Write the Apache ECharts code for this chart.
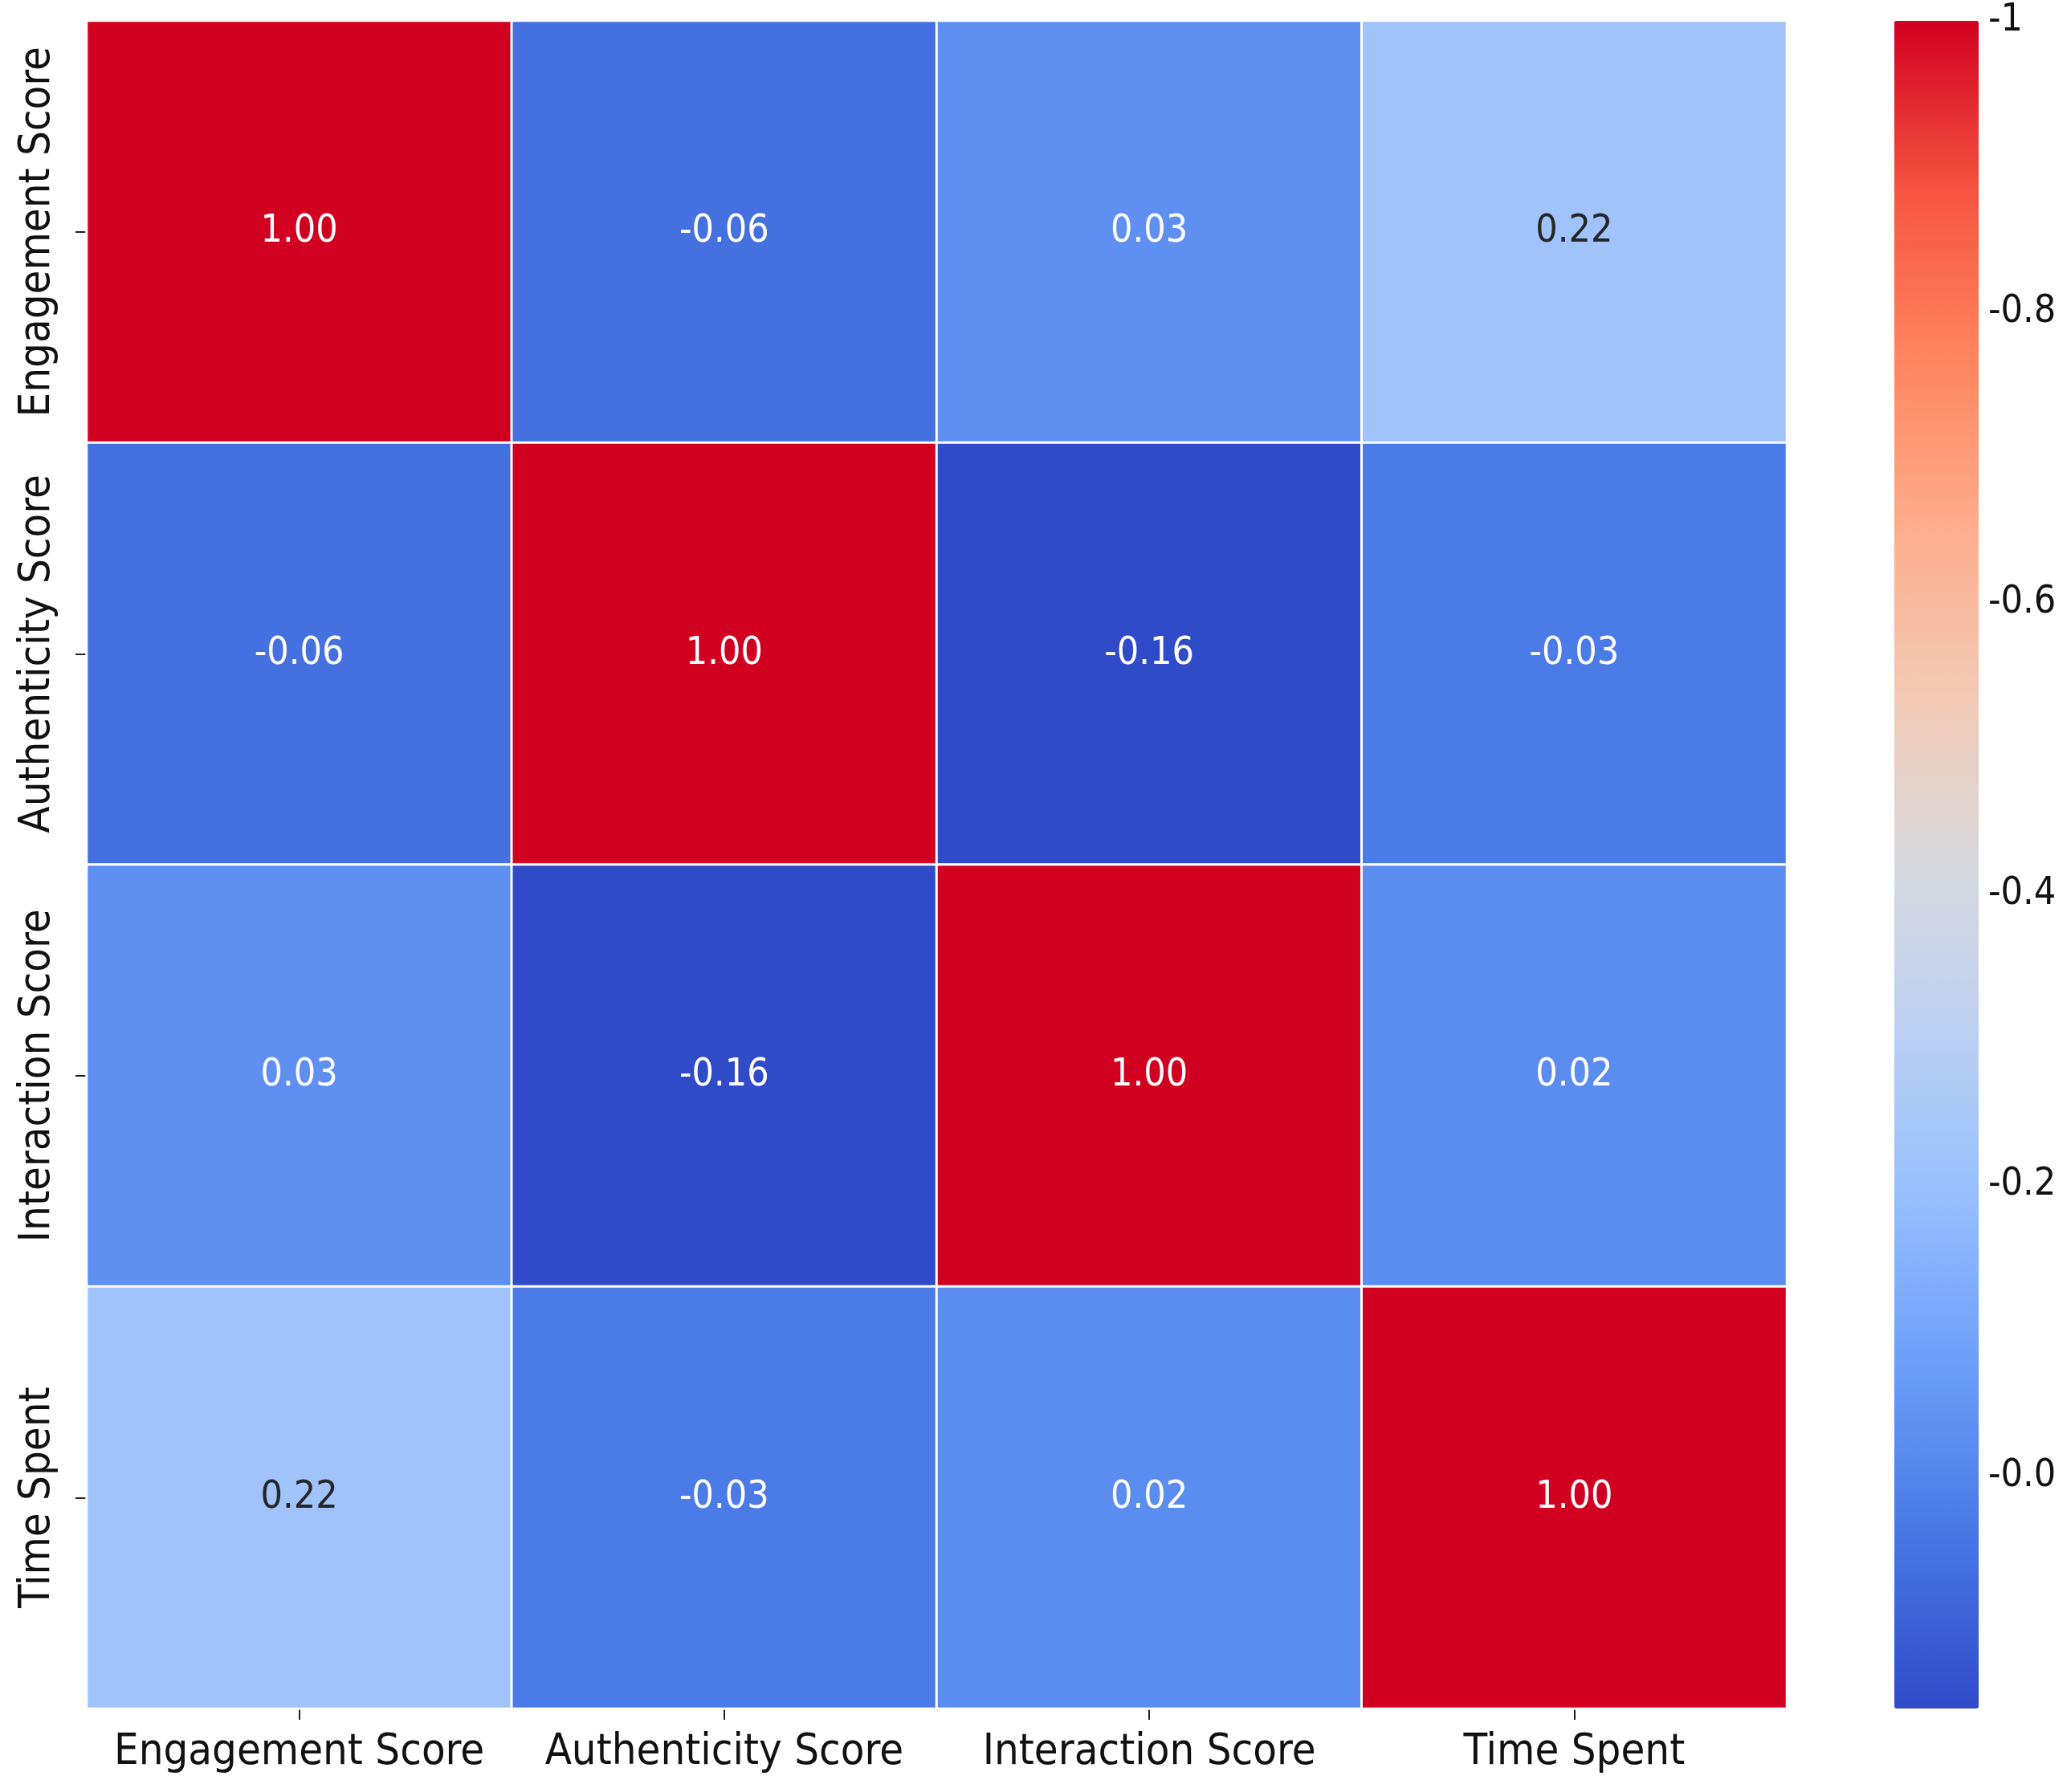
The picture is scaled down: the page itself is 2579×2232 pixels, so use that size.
<!DOCTYPE html>
<html>
<head>
<meta charset="utf-8">
<script src="https://cdn.jsdelivr.net/npm/echarts@6/dist/echarts.min.js"></script>
<style>
  html, body { margin: 0; padding: 0; background: #fff; }
  #chart { width: 2579px; height: 2232px; }
</style>
</head>
<body>
<div id="chart"></div>
<script>
(function() {
  var font = "'DejaVu Sans Condensed', 'DejaVu Sans', sans-serif";

  // --- data ---
  var xCats = ['Engagement Score', 'Authenticity Score', 'Interaction Score', 'Time Spent'];
  var yCats = ['Engagement Score', 'Authenticity Score', 'Interaction Score', 'Time Spent'];
  var rowEngagement = [1.00, -0.06, 0.03, 0.22];
  var rowAuthenticity = [-0.06, 1.00, -0.16, -0.03];
  var rowInteraction = [0.03, -0.16, 1.00, 0.02];
  var rowTime = [0.22, -0.03, 0.02, 1.00];
  var cbarTicks = [0, 0.2, 0.4, 0.6, 0.8, 1];
  var cbarLabels = ['-0.0', '-0.2', '-0.4', '-0.6', '-0.8', '-1'];
  var vMin = -0.16, vMax = 1;

  // coolwarm-like ramp as seen in the picture (low -> high)
  var ramp = ['#2f4bc7', '#4776e4', '#6b9df8', '#95befe', '#bcd0f2', '#d8d9de',
              '#f2cab6', '#fdad8c', '#ff855f', '#f55441', '#d10020'];

  var rows = [rowEngagement, rowAuthenticity, rowInteraction, rowTime];
  var data = [];
  rows.forEach(function(row, yi) {
    row.forEach(function(v, xi) {
      var dark = v > 0.12 && v < 0.7;
      data.push({
        value: [xi, yi, v],
        label: { color: dark ? '#262626' : '#ffffff' }
      });
    });
  });

  var chart = echarts.init(document.getElementById('chart'));
  chart.setOption({
    backgroundColor: '#ffffff',
    animation: false,
    grid: [
      { left: 108, top: 26, width: 2117, height: 2102 },
      { left: 2359, top: 26, width: 105, height: 2102 }
    ],
    xAxis: [
      {
        type: 'category',
        data: xCats,
        gridIndex: 0,
        axisLine: { show: false },
        axisTick: { show: true, alignWithLabel: true, length: 14, lineStyle: { color: '#222', width: 2 } },
        axisLabel: { interval: 0, color: '#111', fontSize: 54, fontFamily: font, margin: 28 },
        splitLine: { show: false }
      },
      { type: 'value', gridIndex: 1, show: false, min: 0, max: 1 }
    ],
    yAxis: [
      {
        type: 'category',
        data: yCats,
        gridIndex: 0,
        inverse: true,
        axisLine: { show: false },
        axisTick: { show: true, alignWithLabel: true, length: 14, lineStyle: { color: '#222', width: 2 } },
        axisLabel: { interval: 0, color: '#111', fontSize: 54, fontFamily: font, rotate: 90, margin: 34 },
        splitLine: { show: false }
      },
      {
        type: 'value',
        gridIndex: 1,
        position: 'right',
        min: vMin,
        max: vMax,
        axisLine: { show: false },
        splitLine: { show: false },
        axisTick: { show: true, length: 5, customValues: cbarTicks, lineStyle: { color: '#bbbbbb', width: 1 } },
        axisLabel: {
          customValues: cbarTicks,
          color: '#111',
          fontSize: 48,
          fontFamily: font,
          margin: 12,
          formatter: function(v) {
            for (var i = 0; i < cbarTicks.length; i++) {
              if (Math.abs(cbarTicks[i] - v) < 1e-6) return cbarLabels[i];
            }
            return '';
          }
        }
      }
    ],
    visualMap: {
      type: 'continuous',
      min: vMin,
      max: vMax,
      seriesIndex: 0,
      calculable: false,
      showLabel: false,
      text: null,
      orient: 'vertical',
      left: 2359,
      top: 26,
      padding: 0,
      itemWidth: 105,
      itemHeight: 2102,
      inRange: { color: ramp }
    },
    series: [
      {
        type: 'heatmap',
        xAxisIndex: 0,
        yAxisIndex: 0,
        data: data,
        itemStyle: { borderColor: '#ffffff', borderWidth: 3 },
        label: {
          show: true,
          fontSize: 48,
          fontFamily: font,
          formatter: function(p) { return p.value[2].toFixed(2); }
        },
        emphasis: { disabled: true }
      },
      {
        type: 'scatter',
        xAxisIndex: 1,
        yAxisIndex: 1,
        data: []
      }
    ]
  });
  window.addEventListener('resize', function() { chart.resize(); });
})();
</script>
</body>
</html>
